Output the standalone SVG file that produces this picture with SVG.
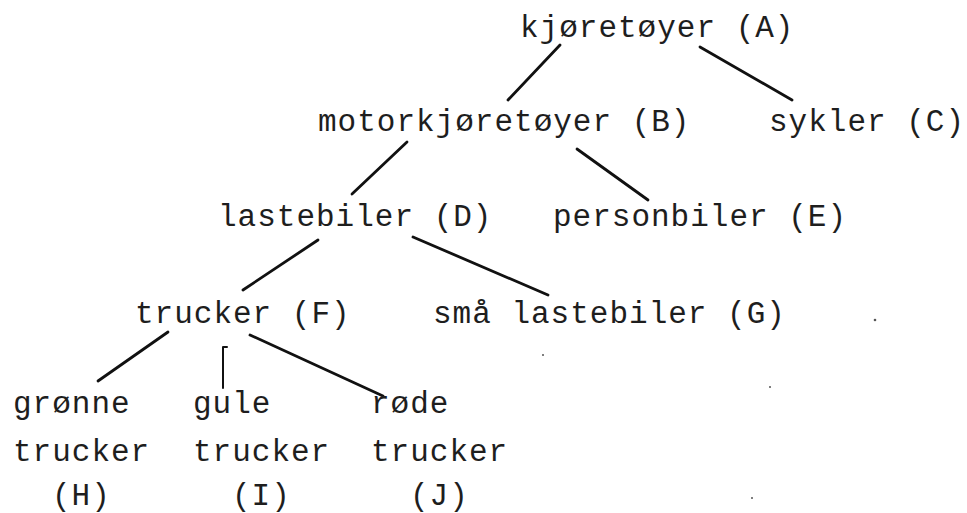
<svg xmlns="http://www.w3.org/2000/svg" width="967" height="513" viewBox="0 0 967 513">
<style>
  .t { font-family: "Liberation Mono", "DejaVu Sans Mono", monospace; font-size: 31px; letter-spacing: 1px; fill: #1e1e1e; }
  .c { stroke: #111; stroke-width: 2.8; fill: none; stroke-linecap: round; stroke-linejoin: round; }
  .s { fill: #555; }
</style>
<rect width="967" height="513" fill="#fff"/>
<g id="connectors">
  <line class="c" x1="560" y1="45" x2="508" y2="100"/>
  <line class="c" x1="700" y1="47" x2="792" y2="100"/>
  <line class="c" x1="407" y1="142" x2="352" y2="194"/>
  <line class="c" x1="577" y1="149" x2="648" y2="200"/>
  <line class="c" x1="318" y1="240" x2="243" y2="290"/>
  <line class="c" x1="413" y1="237" x2="548" y2="295"/>
  <line class="c" x1="168" y1="332" x2="98" y2="381"/>
  <path class="c" d="M227 347 H223 V388" style="stroke-width:2"/>
  <line class="c" x1="250" y1="335" x2="383" y2="396"/>
</g>
<g id="node-A"><text class="t" x="520" y="37">kjøretøyer (A)</text></g>
<g id="node-B"><text class="t" x="318" y="131">motorkjøretøyer (B)</text></g>
<g id="node-C"><text class="t" x="769" y="131">sykler (C)</text></g>
<g id="node-D"><text class="t" x="218" y="226">lastebiler (D)</text></g>
<g id="node-E"><text class="t" x="553" y="226">personbiler (E)</text></g>
<g id="node-F"><text class="t" x="135" y="323">trucker (F)</text></g>
<g id="node-G"><text class="t" x="433" y="323">små lastebiler (G)</text></g>
<g id="node-H">
  <text class="t" x="13" y="413">grønne</text>
  <text class="t" x="13" y="461">trucker</text>
  <text class="t" x="52" y="505">(H)</text>
</g>
<g id="node-I">
  <text class="t" x="193" y="413">gule</text>
  <text class="t" x="193" y="461">trucker</text>
  <text class="t" x="232" y="505">(I)</text>
</g>
<g id="node-J">
  <text class="t" x="371" y="413">røde</text>
  <text class="t" x="371" y="461">trucker</text>
  <text class="t" x="410" y="505">(J)</text>
</g>
<g id="specks">
  <circle class="s" cx="875" cy="320" r="1.3"/>
  <circle class="s" cx="770" cy="387" r="1"/>
  <circle class="s" cx="752" cy="498" r="1"/>
  <circle class="s" cx="543" cy="355" r="1"/>
</g>
</svg>
